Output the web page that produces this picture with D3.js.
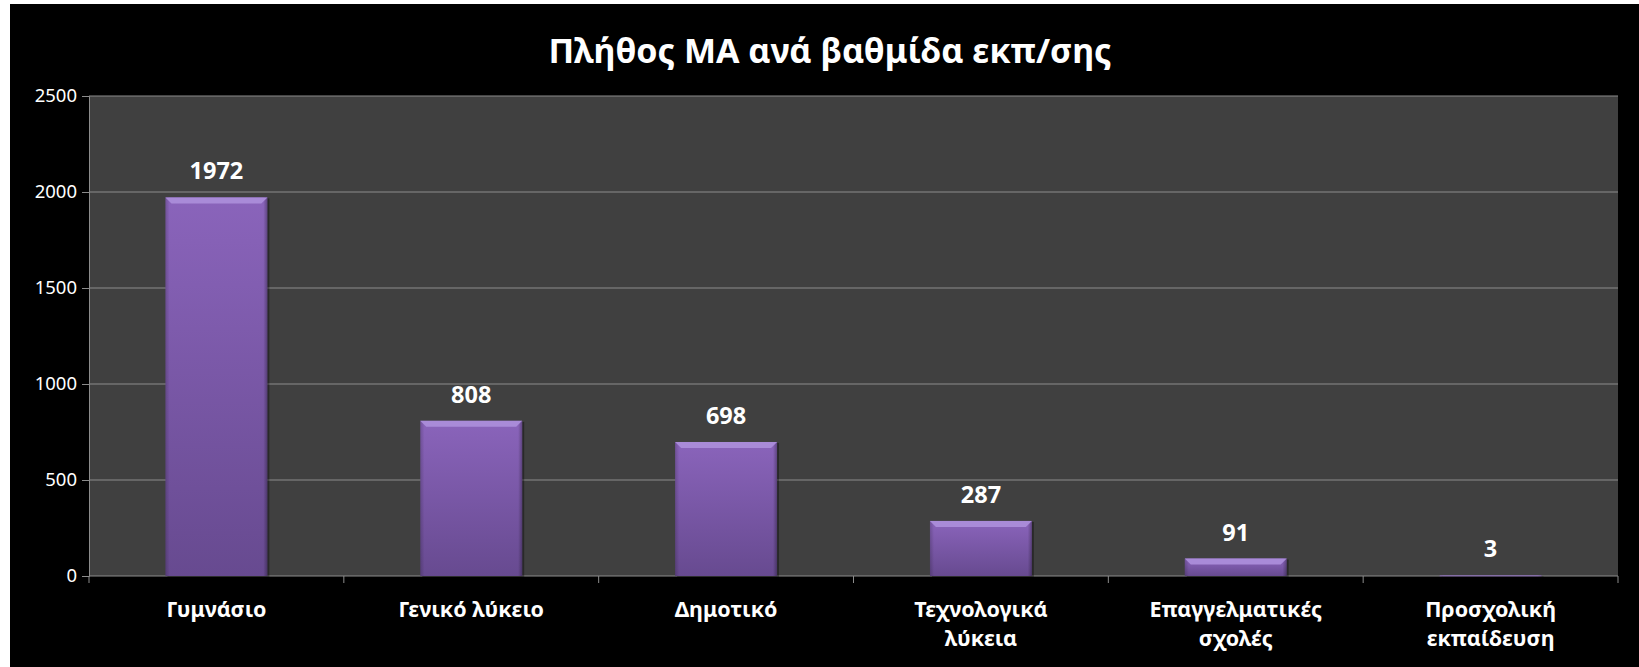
<!DOCTYPE html>
<html>
<head>
<meta charset="utf-8">
<script src="https://cdn.jsdelivr.net/npm/d3@7"></script>
<style>
  body { margin: 0; background: #fff; }
  svg text { font-family: "Noto Sans", "Open Sans", sans-serif; fill: #fff; }
</style>
</head>
<body>
<div id="chart"></div>
<script>
// data
const categories = [
    ["Γυμνάσιο"],
    ["Γενικό λύκειο"],
    ["Δημοτικό"],
    ["Τεχνολογικά", "λύκεια"],
    ["Επαγγελματικές", "σχολές"],
    ["Προσχολική", "εκπαίδευση"]
];
const counts = [1972, 808, 698, 287, 91, 3];
const yTicks = [0, 500, 1000, 1500, 2000, 2500];
const title = "Πλήθος ΜΑ ανά βαθμίδα εκπ/σης";

const W = 1639, H = 667;
const margin = { top: 96, right: 21, bottom: 91, left: 89 },
    width = W - margin.left - margin.right,
    height = H - margin.top - margin.bottom;

const svg = d3.select("#chart")
    .append("svg")
    .attr("width", W)
    .attr("height", H);

// black chart frame
svg.append("rect")
    .attr("x", 10).attr("y", 4)
    .attr("width", W - 10).attr("height", H - 4)
    .attr("fill", "#000");

// gradient for the bars
const defs = svg.append("defs");
const grad = defs.append("linearGradient")
    .attr("id", "barGrad")
    .attr("x1", 0).attr("y1", 0).attr("x2", 0).attr("y2", 1);
grad.append("stop").attr("offset", "0%").attr("stop-color", "#8a64bb");
grad.append("stop").attr("offset", "100%").attr("stop-color", "#674a90");

const side = defs.append("linearGradient")
    .attr("id", "sideGrad")
    .attr("x1", 0).attr("y1", 0).attr("x2", 1).attr("y2", 0);
side.append("stop").attr("offset", "0%").attr("stop-color", "#000").attr("stop-opacity", 0.18);
side.append("stop").attr("offset", "4%").attr("stop-color", "#000").attr("stop-opacity", 0);
side.append("stop").attr("offset", "96%").attr("stop-color", "#000").attr("stop-opacity", 0);
side.append("stop").attr("offset", "100%").attr("stop-color", "#000").attr("stop-opacity", 0.3);

const g = svg.append("g")
    .attr("transform", `translate(${margin.left},${margin.top})`);

// plot area
g.append("rect")
    .attr("width", width).attr("height", height)
    .attr("fill", "#404040");

const x = d3.scaleBand()
    .domain(d3.range(categories.length))
    .range([0, width])
    .paddingInner(0.6)
    .paddingOuter(0.3);

const y = d3.scaleLinear()
    .domain([0, 2500])
    .range([height, 0]);

// gridlines
g.selectAll(".grid")
    .data(yTicks.slice(1))
    .enter().append("line")
    .attr("x1", 0).attr("x2", width)
    .attr("y1", d => y(d)).attr("y2", d => y(d))
    .attr("stroke", "#8c8c8c")
    .attr("stroke-width", 1);

// y axis
const yAxis = g.append("g")
    .call(d3.axisLeft(y).tickValues(yTicks).tickFormat(d3.format("d")).tickSize(7).tickPadding(5));
yAxis.select(".domain").attr("stroke", "#8c8c8c");
yAxis.selectAll(".tick line").attr("stroke", "#8c8c8c");
yAxis.selectAll("text")
    .style("font-size", "18.5px")
    .attr("fill", "#fff");

// x axis: ticks between categories
const step = x.step();
const boundaries = d3.range(categories.length + 1).map(i => i * step);
g.append("line")
    .attr("x1", 0).attr("x2", width)
    .attr("y1", height).attr("y2", height)
    .attr("stroke", "#8c8c8c");
g.selectAll(".xtick")
    .data(boundaries)
    .enter().append("line")
    .attr("x1", d => d).attr("x2", d => d)
    .attr("y1", height).attr("y2", height + 7)
    .attr("stroke", "#8c8c8c");

// bars
const bars = g.selectAll(".bar")
    .data(counts)
    .enter().append("g")
    .attr("class", "bar");

bars.append("rect")
    .attr("x", (d, i) => x(i) + 2)
    .attr("y", d => y(d) + 1)
    .attr("width", x.bandwidth())
    .attr("height", d => Math.max(1, height - y(d)))
    .attr("fill", "#000")
    .attr("opacity", 0.35);

bars.append("rect")
    .attr("x", (d, i) => x(i))
    .attr("y", d => y(d))
    .attr("width", x.bandwidth())
    .attr("height", d => Math.max(1, height - y(d)))
    .attr("fill", "url(#barGrad)");

bars.append("rect")
    .attr("x", (d, i) => x(i))
    .attr("y", d => y(d))
    .attr("width", x.bandwidth())
    .attr("height", d => Math.max(1, height - y(d)))
    .attr("fill", "url(#sideGrad)");

// top bevel
bars.append("path")
    .attr("d", (d, i) => {
        const x0 = x(i), x1 = x(i) + x.bandwidth(), top = y(d);
        const b = Math.min(6, (height - top) / 2);
        return `M${x0},${top}L${x1},${top}L${x1 - b},${top + b}L${x0 + b},${top + b}Z`;
    })
    .attr("fill", "#a98bd8");

// value labels
bars.append("text")
    .attr("x", (d, i) => x(i) + x.bandwidth() / 2)
    .attr("y", d => y(d) - 18)
    .attr("text-anchor", "middle")
    .style("font-size", "23.5px")
    .style("font-weight", "bold")
    .text(d => d);

// category labels
const xl = g.selectAll(".xlabel")
    .data(categories)
    .enter().append("text")
    .attr("text-anchor", "middle")
    .style("font-size", "21.5px")
    .style("font-weight", "bold")
    .attr("transform", (d, i) => `translate(${x(i) + x.bandwidth() / 2},${height + 41})`);
xl.selectAll("tspan")
    .data(d => d)
    .enter().append("tspan")
    .attr("x", 0)
    .attr("dy", (d, i) => i === 0 ? 0 : 29)
    .text(d => d);

// title
svg.append("text")
    .attr("x", 830)
    .attr("y", 63)
    .attr("text-anchor", "middle")
    .style("font-size", "34px")
    .style("font-weight", "bold")
    .text(title);
</script>
</body>
</html>
